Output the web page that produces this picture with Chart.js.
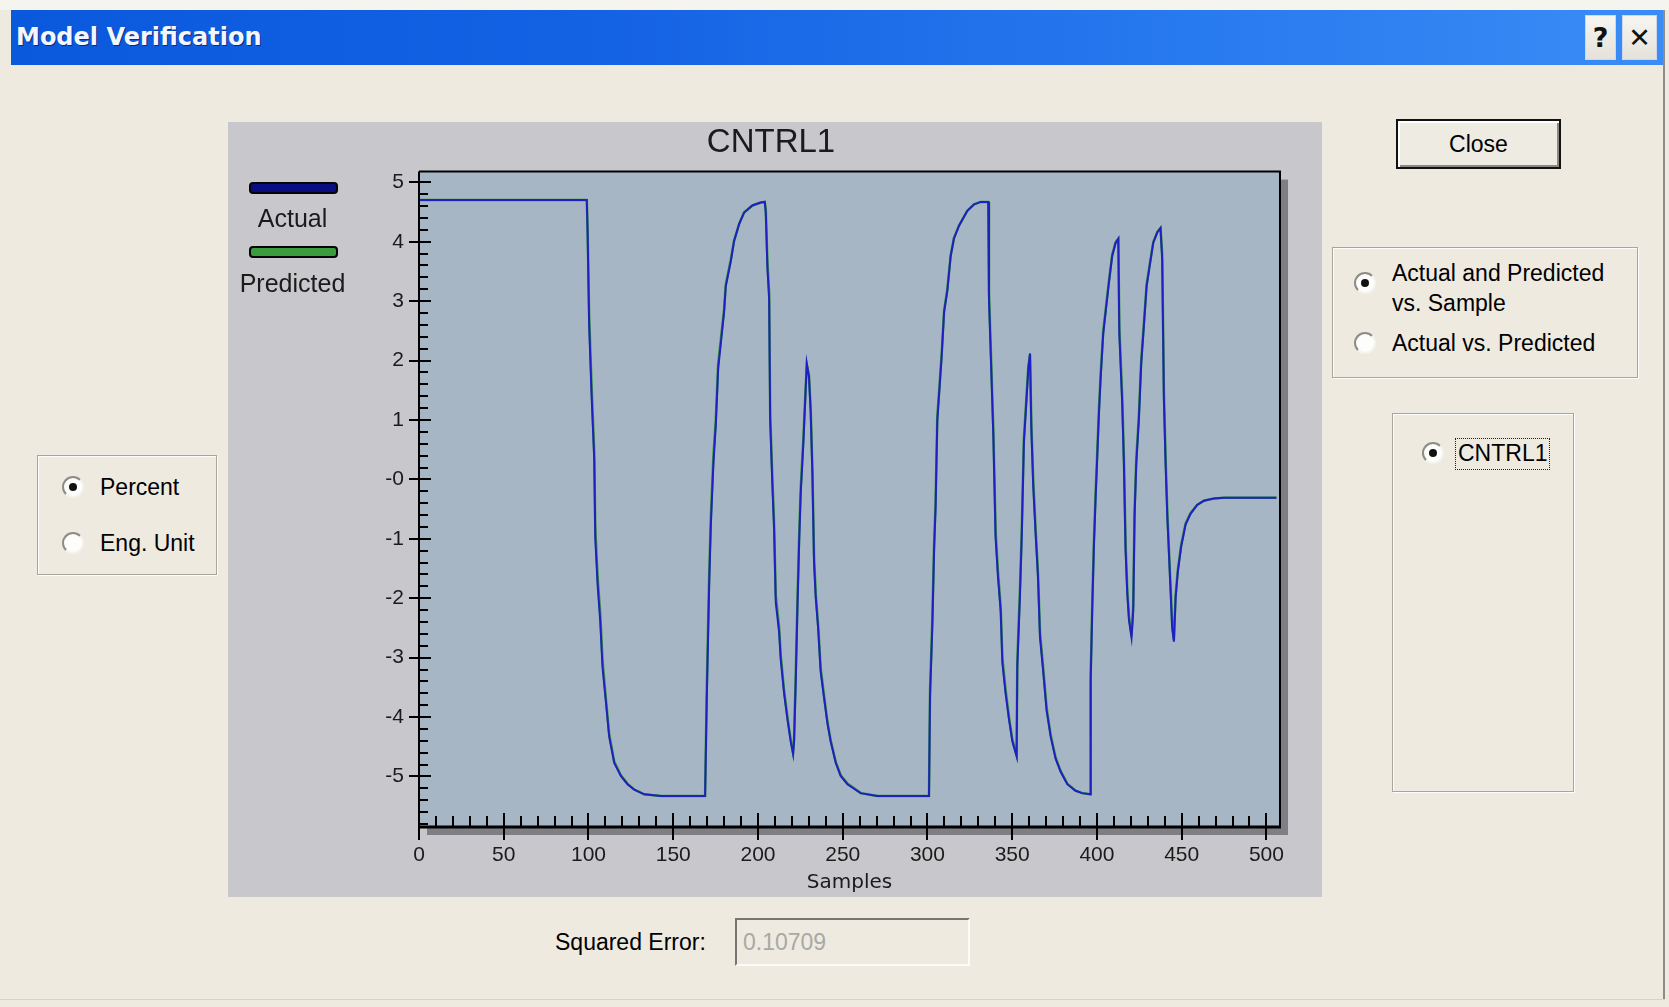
<!DOCTYPE html>
<html><head><meta charset="utf-8">
<title>Model Verification</title>
<script src="https://cdn.jsdelivr.net/npm/chart.js@4.4.1/dist/chart.umd.min.js"></script>
<style>
html,body{margin:0;padding:0;}
body{width:1669px;height:1007px;background:#eeeae0;position:relative;overflow:hidden;font-family:"Liberation Sans",Arial,sans-serif;font-size:23px;color:#000;}
.a{position:absolute;}
#edge-top{left:0;top:0;width:1669px;height:10px;background:#f6f4ee;}
#edge-right{left:1663px;top:10px;width:2px;height:990px;background:#8d8c86;}
#edge-bottom{left:0;top:999px;width:1665px;height:1px;background:#d6d3c9;}
#titlebar{left:11px;top:10px;width:1652px;height:55px;background:linear-gradient(to right,#0a58dc 0%,#1462e4 35%,#2a7cf0 75%,#3a8cf6 100%);}
#titletext{left:5px;top:0;line-height:55px;font-family:"DejaVu Sans",sans-serif;font-weight:bold;font-size:24px;color:#f2f7ff;text-shadow:1px 1px 0 #0a2a7a;}
.tbtn{top:5px;height:45px;background:linear-gradient(#f6f5f0,#e4e2da);border:1px solid #cfd6e6;box-sizing:border-box;text-align:center;line-height:43px;font-family:"DejaVu Sans",sans-serif;font-weight:bold;font-size:27px;color:#111;}
#panel{left:228px;top:122px;width:1094px;height:775px;background:#c8c8cc;}
.group{border:1px solid #a9a697;box-shadow:inset 1px 1px 0 #fdfdfb,1px 1px 0 #fdfdfb;box-sizing:border-box;}
.radio{width:22px;height:22px;border-radius:50%;box-sizing:border-box;background:#fdfdfc;border:2px solid;border-color:#8e8c84 #f4f3ee #f4f3ee #8e8c84;}
.radio.on::after{content:"";position:absolute;left:5px;top:5px;width:8px;height:8px;border-radius:50%;background:#111;}
.lbl{height:30px;line-height:30px;white-space:nowrap;}
#closebtn{left:1396px;top:119px;width:165px;height:50px;box-sizing:border-box;border:2px solid #111;background:#eeebe2;box-shadow:inset 2px 2px 0 #fff,inset -2px -2px 0 #8a887f;text-align:center;line-height:46px;}
#focus{left:1455px;top:438px;width:95px;height:32px;box-sizing:border-box;border:1px dotted #222;}
#errbox{left:735px;top:918px;width:235px;height:48px;box-sizing:border-box;border:2px solid;border-color:#777570 #fbfbf8 #fbfbf8 #777570;background:#eeeae0;color:#a9a8a4;line-height:44px;padding-left:6px;}
</style>
</head>
<body>
<div id="edge-top" class="a"></div>
<div id="titlebar" class="a">
  <div id="titletext" class="a">Model Verification</div>
  <div class="a tbtn" style="left:1574px;width:31px;">?</div>
  <div class="a tbtn" style="left:1611px;width:35px;">✕</div>
</div>
<div id="edge-right" class="a"></div>
<div id="edge-bottom" class="a"></div>

<div id="panel" class="a"><canvas id="c" width="1094" height="775"></canvas></div>

<div class="a group" style="left:37px;top:455px;width:180px;height:120px;"></div>
<div class="a radio on" style="left:62px;top:476px;"></div>
<div class="a lbl" style="left:100px;top:472px;">Percent</div>
<div class="a radio" style="left:62px;top:532px;"></div>
<div class="a lbl" style="left:100px;top:528px;">Eng. Unit</div>

<div id="closebtn" class="a">Close</div>

<div class="a group" style="left:1332px;top:247px;width:306px;height:131px;"></div>
<div class="a radio on" style="left:1354px;top:272px;"></div>
<div class="a lbl" style="left:1392px;top:258px;">Actual and Predicted</div>
<div class="a lbl" style="left:1392px;top:288px;">vs. Sample</div>
<div class="a radio" style="left:1354px;top:332px;"></div>
<div class="a lbl" style="left:1392px;top:328px;">Actual vs. Predicted</div>

<div class="a group" style="left:1392px;top:413px;width:182px;height:379px;"></div>
<div class="a radio on" style="left:1422px;top:442px;"></div>
<div id="focus" class="a"></div>
<div class="a lbl" style="left:1458px;top:438px;">CNTRL1</div>

<div class="a lbl" style="left:555px;top:927px;">Squared Error:</div>
<div id="errbox" class="a">0.10709</div>

<script>
// ---- data ----
const samples = [0,99,99.5,100.4,101.8,103.4,104.0,105.4,106.9,108.3,110.3,112.2,115.2,119.1,123.0,127.0,132.9,142.7,168.8,
 169.8,171.2,172.2,173.7,175.1,176.5,178.1,180.0,181.0,184.0,185.9,188.9,191.8,196.7,201.6,204.0,
 204.6,205.6,206.6,207.2,208.5,209.5,210.5,212.5,213.4,215.4,217.4,219.3,220.7,
 221.3,222.3,223.3,224.3,225.2,226.8,227.8,228.8,
 230.1,231.1,232.1,233.1,234.1,235.5,237.0,239.0,241.0,242.9,245.9,248.8,252.8,260.6,270.4,300.9,
 301.5,302.9,303.9,304.8,305.8,307.2,308.4,309.8,311.7,313.7,315.6,318.6,323.5,327.5,331.4,335.9,
 336.3,337.7,338.9,340.2,341.6,343.2,344.2,346.1,348.1,350.1,352.6,
 353.0,354.6,355.6,356.9,358.3,359.5,360.5,
 361.3,362.4,363.8,365.2,366.4,368.3,370.3,372.7,375.6,378.6,382.5,387.4,391.3,395.9,
 396.3,397.2,398.2,399.2,400.2,401.2,402.2,403.7,405.1,407.1,409.0,411.0,412.6,
 413.2,414.9,415.9,416.9,417.9,418.9,420.4,
 421.4,422.2,423.2,424.7,426.1,427.7,429.3,431.2,433.2,435.6,437.5,
 438.5,439.5,440.5,441.5,442.4,443.4,444.4,445.4,
 446.4,447.7,449.7,452.3,455.2,459.1,463.1,469.0,474.9,505.9];

const actual = [4.70,4.70,4.12,2.59,1.43,0.33,-0.98,-1.78,-2.37,-3.17,-3.75,-4.33,-4.77,-4.99,-5.13,-5.22,-5.30,-5.33,-5.33,
 -3.68,-1.78,-0.76,0.26,0.91,1.86,2.30,2.81,3.25,3.68,4.01,4.30,4.49,4.61,4.66,4.67,
 4.49,3.54,3.03,0.99,-0.10,-0.83,-2.07,-2.58,-3.02,-3.60,-4.04,-4.41,-4.62,
 -4.41,-3.39,-2.15,-1.05,-0.25,0.62,1.28,1.95,
 1.72,1.13,0.11,-1.42,-2.00,-2.51,-3.24,-3.68,-4.11,-4.41,-4.77,-4.99,-5.13,-5.28,-5.33,-5.33,
 -3.68,-2.44,-1.20,-0.47,0.99,1.57,2.08,2.81,3.17,3.76,4.05,4.27,4.52,4.63,4.67,4.67,
 3.03,1.79,0.70,-0.98,-1.64,-2.22,-3.09,-3.60,-4.04,-4.41,-4.66,
 -3.17,-1.93,-0.98,0.62,1.28,1.86,2.12,
 0.84,-0.11,-0.91,-1.64,-2.66,-3.24,-3.89,-4.33,-4.70,-4.92,-5.13,-5.24,-5.28,-5.30,
 -3.39,-2.22,-1.13,-0.32,0.40,1.13,1.72,2.45,2.81,3.32,3.76,3.98,4.05,
 2.45,1.28,0.26,-1.20,-1.93,-2.37,-2.66,
 -2.22,-0.62,0.26,0.99,1.94,2.59,3.25,3.61,3.98,4.16,4.23,
 3.69,1.35,0.26,-0.62,-1.20,-1.85,-2.51,-2.73,
 -2.00,-1.56,-1.13,-0.76,-0.58,-0.43,-0.36,-0.32,-0.31,-0.31];

const predicted = [4.70,4.70,4.20,2.75,1.60,0.45,-0.80,-1.65,-2.25,-3.05,-3.70,-4.28,-4.75,-4.98,-5.12,-5.22,-5.30,-5.33,-5.33,
 -3.50,-1.60,-0.62,0.40,1.00,1.95,2.36,2.86,3.28,3.70,4.02,4.30,4.49,4.61,4.66,4.67,
 4.55,3.65,3.15,1.10,0.02,-0.72,-1.95,-2.50,-2.95,-3.55,-4.00,-4.38,-4.60,
 -4.35,-3.25,-2.02,-0.95,-0.15,0.70,1.34,1.93,
 1.76,1.20,0.20,-1.30,-1.92,-2.45,-3.18,-3.64,-4.08,-4.39,-4.76,-4.98,-5.12,-5.28,-5.33,-5.33,
 -3.55,-2.32,-1.10,-0.38,1.06,1.62,2.12,2.84,3.20,3.77,4.06,4.27,4.52,4.63,4.67,4.67,
 3.15,1.90,0.80,-0.86,-1.55,-2.14,-3.00,-3.54,-4.00,-4.38,-4.64,
 -3.05,-1.82,-0.88,0.70,1.34,1.90,2.10,
 0.95,0.00,-0.82,-1.56,-2.58,-3.18,-3.84,-4.30,-4.68,-4.91,-5.12,-5.24,-5.28,-5.30,
 -3.28,-2.12,-1.04,-0.24,0.48,1.20,1.78,2.50,2.85,3.35,3.78,3.99,4.05,
 2.58,1.40,0.38,-1.08,-1.84,-2.30,-2.64,
 -2.12,-0.52,0.35,1.06,2.00,2.63,3.28,3.63,3.99,4.16,4.23,
 3.80,1.48,0.38,-0.52,-1.12,-1.78,-2.45,-2.70,
 -1.95,-1.52,-1.10,-0.74,-0.57,-0.43,-0.36,-0.32,-0.31,-0.31];

const seriesNames = ['Actual', 'Predicted'];
const chartTitle = 'CNTRL1';
const xAxisTitle = 'Samples';
const xTickValues = [0, 50, 100, 150, 200, 250, 300, 350, 400, 450, 500];
const xTickLabels = ['0', '50', '100', '150', '200', '250', '300', '350', '400', '450', '500'];
const yTickValues = [5, 4, 3, 2, 1, 0, -1, -2, -3, -4, -5];
const yTickLabels = ['5', '4', '3', '2', '1', '-0', '-1', '-2', '-3', '-4', '-5'];

// ---- styling / decoration ----
const plotBg = '#a7b6c4';
const shadowColor = '#7e7e84';
const textColor = '#1b1b1b';

const decor = {
  id: 'decor',
  beforeDatasetsDraw(chart) {
    const {ctx, chartArea: ca} = chart;
    ctx.save();
    ctx.fillStyle = shadowColor;
    ctx.fillRect(ca.left + 8, ca.top + 8, ca.right - ca.left, ca.bottom - ca.top);
    ctx.fillStyle = plotBg;
    ctx.fillRect(ca.left, ca.top, ca.right - ca.left, ca.bottom - ca.top);
    ctx.restore();
  },
  afterDatasetsDraw(chart) {
    const {ctx, chartArea: ca, scales} = chart;
    const xs = scales.x, ys = scales.y;
    ctx.save();
    ctx.strokeStyle = '#000';
    const line = (x1, y1, x2, y2) => { ctx.beginPath(); ctx.moveTo(x1, y1); ctx.lineTo(x2, y2); ctx.stroke(); };
    // frame top and right
    ctx.lineWidth = 2;
    line(ca.left, ca.top, ca.right + 1, ca.top);
    line(ca.right, ca.top, ca.right, ca.bottom);
    // axis lines
    ctx.lineWidth = 2;
    line(ca.left, ca.top, ca.left, ca.bottom + 13);
    ctx.lineWidth = 3;
    line(ca.left, ca.bottom, ca.right + 1, ca.bottom);
    // y ticks
    ctx.lineWidth = 2;
    yTickValues.forEach(v => { const p = Math.round(ys.getPixelForValue(v)); line(ca.left - 10, p, ca.left + 12, p); });
    const yMinorStep = 0.2;
    for (let k = Math.ceil(ys.min / yMinorStep); k * yMinorStep <= ys.max; k++) {
      const v = k * yMinorStep;
      if (Math.abs(v - Math.round(v)) < 1e-6) continue;
      const p = Math.round(ys.getPixelForValue(v));
      line(ca.left, p, ca.left + 9, p);
    }
    // x ticks
    xTickValues.forEach(v => { const p = Math.round(xs.getPixelForValue(v)); line(p, ca.bottom - 14, p, ca.bottom + 13); });
    const xMinorStep = 10;
    for (let k = 0; k * xMinorStep <= xs.max; k++) {
      const v = k * xMinorStep;
      if (v % 50 === 0) continue;
      const p = Math.round(xs.getPixelForValue(v));
      line(p, ca.bottom - 11, p, ca.bottom);
    }
    ctx.restore();
  },
  afterDraw(chart) {
    // legend on the left: line swatch above each series name
    const ctx = chart.ctx;
    ctx.save();
    const swX = 22, swW = 87, swH = 10;
    const rows = [{bar: 61, text: 98}, {bar: 125, text: 163}];
    chart.data.datasets.forEach((ds, i) => {
      const r = rows[i];
      ctx.fillStyle = ds.legendColor;
      ctx.strokeStyle = '#050505';
      ctx.lineWidth = 2;
      ctx.beginPath();
      ctx.roundRect(swX, r.bar, swW, swH, 3);
      ctx.fill();
      ctx.stroke();
      ctx.fillStyle = textColor;
      ctx.font = '25px "Liberation Sans", Arial, sans-serif';
      ctx.textAlign = 'center';
      ctx.textBaseline = 'middle';
      ctx.fillText(ds.label, swX + swW / 2 - 1, r.text);
    });
    ctx.restore();
  }
};

const actualPts = samples.map((s, i) => ({x: s, y: actual[i]}));
const predictedPts = samples.map((s, i) => ({x: s, y: predicted[i]}));

new Chart(document.getElementById('c'), {
  type: 'line',
  data: {
    datasets: [
      {label: seriesNames[0], data: actualPts, borderColor: '#1f1fc2', borderWidth: 2, pointRadius: 0, tension: 0, fill: false, legendColor: '#0c0c82'},
      {label: seriesNames[1], data: predictedPts, borderColor: '#35983a', borderWidth: 2.5, pointRadius: 0, tension: 0, fill: false, legendColor: '#3a9c3c'}
    ]
  },
  options: {
    responsive: false,
    animation: false,
    events: [],
    layout: {padding: {left: 34, right: 42, top: 0, bottom: 0}},
    plugins: {
      legend: {display: false},
      tooltip: {enabled: false},
      title: {display: true, text: chartTitle, color: textColor,
        font: {family: '"Liberation Sans", Arial, sans-serif', size: 33, weight: 'normal', lineHeight: 1.2},
        padding: {top: 1, bottom: 9}}
    },
    scales: {
      x: {
        type: 'linear', min: 0, max: 508,
        grid: {display: false, drawTicks: false},
        border: {display: false},
        afterBuildTicks: s => { s.ticks = xTickValues.map(v => ({value: v})); },
        afterFit: s => { s.height = 70; },
        ticks: {callback: (v, i) => xTickLabels[i], autoSkip: false, maxRotation: 0, padding: 16, color: textColor,
          font: {family: '"Liberation Sans", Arial, sans-serif', size: 21, lineHeight: 1.2}},
        title: {display: true, text: xAxisTitle, color: textColor,
          font: {family: '"DejaVu Sans", sans-serif', size: 20, lineHeight: 1.2}, padding: {top: 0, bottom: 2}}
      },
      y: {
        type: 'linear', min: -5.85, max: 5.18,
        grid: {display: false, drawTicks: false},
        border: {display: false},
        afterBuildTicks: s => { s.ticks = yTickValues.map(v => ({value: v})); },
        afterFit: s => { s.width = 157; },
        ticks: {callback: (v, i) => yTickLabels[i], autoSkip: false, padding: 15, color: textColor,
          font: {family: '"Liberation Sans", Arial, sans-serif', size: 21, lineHeight: 1.2}}
      }
    }
  },
  plugins: [decor]
});
</script>
</body></html>
